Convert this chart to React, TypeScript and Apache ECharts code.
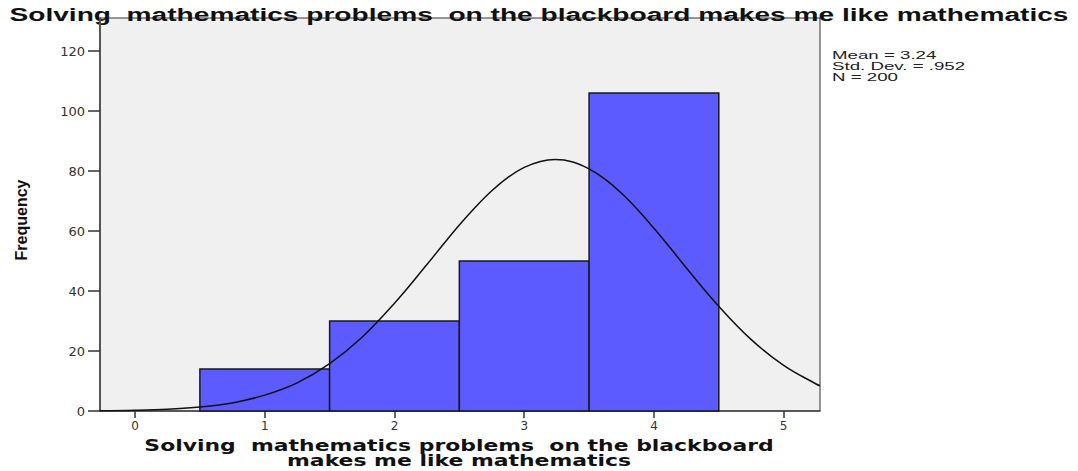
import React, { useEffect, useRef } from "react";
import * as echarts from "echarts";

const titleText = "Solving  mathematics problems  on the blackboard makes me like mathematics";
const xTitleLines = ["Solving  mathematics problems  on the blackboard", "makes me like mathematics"];
const yTitle = "Frequency";
const statsLines = ["Mean = 3.24", "Std. Dev. = .952", "N = 200"];

const binCenters = [1, 2, 3, 4];
const binCounts = [14, 30, 50, 106];

const yTicks = [0, 20, 40, 60, 80, 100, 120];
const xTicks = [0, 1, 2, 3, 4, 5];

// normal curve points
const curveX = [-0.27, 0, 0.25, 0.5, 0.75, 1, 1.25, 1.5, 1.75, 2, 2.25, 2.375, 2.5, 2.625, 2.75, 2.875, 3, 3.125, 3.24, 3.375, 3.5, 3.625, 3.75, 3.875, 4, 4.125, 4.25, 4.5, 4.75, 5, 5.25, 5.28];
const curveY = [0.1, 0.26, 0.6, 1.3, 2.7, 5.3, 9.4, 15.8, 24.6, 35.9, 48.8, 55.5, 62.0, 68.0, 73.4, 77.9, 81.2, 83.2, 83.8, 83.0, 80.7, 77.2, 72.6, 67.1, 60.9, 54.4, 47.7, 34.9, 23.8, 15.2, 9.0, 8.4];

export default function App() {
  const ref = useRef<HTMLDivElement>(null);
  useEffect(() => {
    document.body.style.margin = "0";
    const chart = echarts.init(ref.current!, null, { renderer: "svg" });
    const axisFont = "DejaVu Sans, sans-serif";
    chart.setOption({
      animation: false,
      grid: {
        left: 100,
        right: 258,
        top: 18,
        bottom: 60,
        show: true,
        backgroundColor: "#f0f0f0",
        borderColor: "#333",
        borderWidth: 1,
      },
      xAxis: {
        type: "value",
        min: -0.27,
        max: 5.28,
        splitLine: { show: false },
        axisLine: { show: true, onZero: false, lineStyle: { color: "#444", width: 1.5 } },
        axisTick: { show: true, length: 7, customValues: xTicks, lineStyle: { color: "#333", width: 1.5 } },
        axisLabel: { customValues: xTicks, color: "#333", fontSize: 12, fontFamily: axisFont, margin: 9 },
      },
      yAxis: {
        type: "value",
        min: 0,
        max: 131,
        splitLine: { show: false },
        axisLine: { show: true, onZero: false, lineStyle: { color: "#555", width: 2 } },
        axisTick: { show: true, length: 12, customValues: yTicks, lineStyle: { color: "#333", width: 1.5 } },
        axisLabel: { customValues: yTicks, color: "#333", fontSize: 13, fontFamily: axisFont, margin: 15 },
      },
      series: [
        {
          type: "custom",
          data: binCenters.map((c, i) => [c, binCounts[i]]),
          renderItem: (params: any, api: any) => {
            const x = api.value(0);
            const y = api.value(1);
            const p1 = api.coord([x - 0.5, y]);
            const p2 = api.coord([x + 0.5, 0]);
            return {
              type: "rect",
              shape: { x: p1[0], y: p1[1], width: p2[0] - p1[0], height: p2[1] - p1[1] },
              style: { fill: "#5b5bff", stroke: "#1a1a1a", lineWidth: 1.5 },
            };
          },
          z: 2,
        },
        {
          type: "line",
          data: curveX.map((x, i) => [x, curveY[i]]),
          smooth: 0.4,
          showSymbol: false,
          lineStyle: { color: "#111", width: 1.5 },
          z: 3,
        },
      ],
      graphic: [
        {
          type: "text",
          x: 539,
          y: 5,
          scaleX: 1.48,
          style: {
            text: titleText,
            fill: "#111",
            font: "bold 19px Liberation Sans, Arial, sans-serif",
            textAlign: "center",
            textVerticalAlign: "top",
          },
        },
        {
          type: "text",
          x: 21,
          y: 220,
          rotation: Math.PI / 2,
          style: {
            text: yTitle,
            fill: "#111",
            font: "bold 16px Liberation Sans Narrow, Liberation Sans, Arial, sans-serif",
            textAlign: "center",
            textVerticalAlign: "middle",
          },
        },
        {
          type: "text",
          x: 459,
          y: 438,
          scaleX: 1.37,
          style: {
            text: xTitleLines[0],
            fill: "#111",
            font: "bold 16px DejaVu Sans, sans-serif",
            textAlign: "center",
            textVerticalAlign: "top",
          },
        },
        {
          type: "text",
          x: 459,
          y: 453,
          scaleX: 1.37,
          style: {
            text: xTitleLines[1],
            fill: "#111",
            font: "bold 16px DejaVu Sans, sans-serif",
            textAlign: "center",
            textVerticalAlign: "top",
          },
        },
        ...statsLines.map((t, i) => ({
          type: "text",
          x: 832,
          y: 50 + i * 11,
          scaleX: 1.7,
          style: {
            text: t,
            fill: "#222",
            font: "11px Liberation Sans, Arial, sans-serif",
            textAlign: "left",
            textVerticalAlign: "top",
          },
        })),
      ],
    });
    return () => chart.dispose();
  }, []);
  return <div ref={ref} style={{ width: 1078, height: 471 }} />;
}
